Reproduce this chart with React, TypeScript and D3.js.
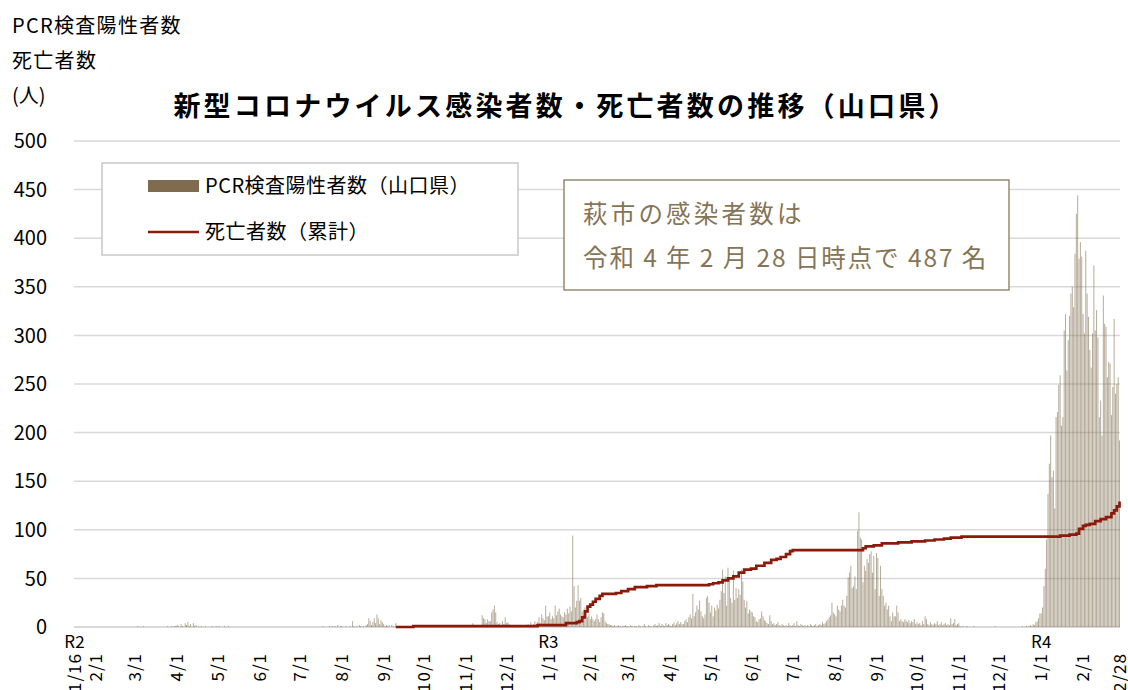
import React from 'react';
import * as d3 from 'd3';

// daily PCR positives (Yamaguchi), one array per month
const jan2020 = [0, 0, 0, 0, 0, 0, 0, 0, 0, 0, 0, 0, 0, 0, 0, 0]; // from 1/16
const feb2020 = [0, 0, 0, 0, 0, 0, 0, 0, 0, 0, 0, 0, 0, 0, 0, 0, 0, 0, 0, 0, 0, 0, 0, 0, 0, 0, 0, 0, 0];
const mar2020 = [0, 0, 1, 0, 0, 0, 1, 0, 0, 0, 0, 0, 0, 0, 0, 0, 0, 0, 0, 0, 0, 0, 0, 0, 1, 0, 0, 1, 0, 1, 1];
const apr2020 = [2, 1, 0, 3, 1, 0, 4, 2, 5, 1, 3, 0, 4, 1, 2, 0, 1, 0, 1, 0, 0, 1, 0, 0, 0, 0, 1, 0, 0, 1];
const may2020 = [0, 1, 0, 0, 0, 1, 0, 0, 1, 0, 0, 0, 0, 0, 0, 0, 0, 0, 0, 0, 0, 0, 0, 0, 0, 0, 0, 0, 0, 0, 0];
const jun2020 = [0, 0, 0, 0, 0, 0, 0, 0, 0, 0, 0, 0, 0, 0, 0, 0, 0, 0, 0, 0, 0, 0, 0, 0, 0, 0, 0, 0, 0, 0];
const jul2020 = [0, 0, 0, 0, 0, 0, 0, 0, 0, 0, 0, 0, 0, 0, 0, 0, 0, 1, 0, 0, 0, 0, 1, 0, 1, 0, 1, 0, 2, 0, 1];
const aug2020 = [1, 0, 0, 1, 0, 0, 1, 0, 6, 1, 0, 1, 0, 2, 1, 0, 1, 0, 2, 3, 9, 6, 2, 5, 9, 4, 13, 9, 3, 7, 5];
const sep2020 = [3, 1, 2, 1, 2, 0, 2, 1, 0, 4, 1, 0, 0, 0, 0, 0, 0, 0, 0, 0, 0, 0, 0, 0, 0, 0, 0, 0, 0, 0];
const oct2020 = [0, 0, 0, 0, 0, 0, 0, 0, 0, 0, 0, 0, 0, 0, 0, 0, 0, 0, 0, 0, 0, 0, 0, 0, 0, 0, 0, 0, 0, 0, 0];
const nov2020 = [0, 0, 1, 0, 0, 4, 0, 1, 0, 0, 1, 0, 12, 9, 8, 4, 8, 6, 6, 15, 18, 22, 15, 5, 3, 4, 2, 6, 3, 10];
const dec2020 = [4, 5, 3, 2, 2, 1, 2, 1, 2, 1, 2, 1, 2, 1, 2, 1, 3, 2, 5, 2, 3, 6, 3, 5, 10, 4, 13, 9, 7, 22, 11];
const jan2021 = [11, 15, 8, 11, 9, 22, 12, 16, 19, 13, 11, 10, 15, 13, 19, 14, 21, 16, 94, 42, 20, 27, 43, 27, 30, 16, 12, 20, 16, 10, 13];
const feb2021 = [8, 11, 8, 6, 8, 13, 8, 5, 10, 15, 14, 6, 4, 3, 3, 2, 2, 1, 2, 1, 1, 2, 1, 0, 1, 1, 2, 1];
const mar2021 = [1, 0, 2, 1, 0, 1, 1, 0, 2, 1, 0, 1, 3, 1, 0, 2, 1, 1, 0, 2, 3, 1, 2, 4, 1, 3, 2, 1, 4, 2, 3];
const apr2021 = [2, 1, 3, 5, 2, 4, 6, 3, 5, 3, 3, 6, 8, 5, 10, 13, 9, 34, 11, 15, 22, 18, 27, 16, 11, 9, 13, 30, 32, 25];
const may2021 = [15, 22, 11, 20, 17, 23, 19, 28, 37, 59, 35, 52, 22, 61, 51, 30, 25, 58, 28, 40, 30, 39, 33, 59, 47, 28, 20, 27, 14, 18, 16];
const jun2021 = [15, 11, 10, 6, 5, 8, 9, 16, 11, 7, 6, 4, 3, 12, 6, 3, 4, 2, 3, 5, 2, 1, 3, 2, 1, 2, 1, 4, 2, 1];
const jul2021 = [2, 4, 1, 6, 2, 1, 3, 2, 1, 2, 1, 2, 1, 3, 2, 1, 2, 3, 1, 2, 3, 2, 5, 3, 4, 6, 8, 10, 12, 25, 15];
const aug2021 = [13, 11, 22, 18, 16, 22, 28, 22, 20, 32, 51, 56, 63, 40, 42, 52, 39, 99, 118, 92, 90, 46, 63, 58, 70, 66, 75, 78, 56, 73, 39];
const sep2021 = [76, 71, 32, 63, 39, 32, 22, 25, 18, 22, 11, 6, 15, 11, 11, 22, 15, 6, 8, 6, 5, 8, 6, 5, 7, 4, 6, 5, 8, 3];
const oct2021 = [5, 3, 4, 2, 6, 3, 11, 8, 3, 2, 5, 3, 2, 4, 3, 6, 2, 3, 5, 2, 3, 4, 2, 3, 2, 9, 3, 4, 8, 2, 3];
const nov2021 = [4, 1, 0, 1, 0, 0, 1, 0, 0, 0, 0, 1, 0, 0, 0, 0, 0, 0, 0, 0, 0, 0, 0, 0, 0, 0, 0, 1, 0, 0];
const dec2021 = [0, 0, 0, 0, 0, 0, 0, 0, 0, 0, 0, 0, 0, 0, 0, 0, 0, 1, 0, 0, 1, 0, 1, 2, 1, 3, 2, 5, 6, 9, 14];
const jan2022 = [14, 20, 42, 60, 90, 137, 168, 197, 154, 161, 122, 216, 221, 249, 259, 207, 216, 305, 322, 264, 295, 320, 343, 350, 329, 384, 425, 444, 379, 396, 381];
const feb2022 = [322, 302, 387, 343, 319, 285, 267, 302, 372, 305, 326, 298, 216, 233, 197, 341, 312, 309, 257, 273, 271, 218, 247, 317, 240, 250, 257, 192];

const monthStarts: [string, number[]][] = [
  ['2020-01-16', jan2020], ['2020-02-01', feb2020], ['2020-03-01', mar2020], ['2020-04-01', apr2020],
  ['2020-05-01', may2020], ['2020-06-01', jun2020], ['2020-07-01', jul2020], ['2020-08-01', aug2020],
  ['2020-09-01', sep2020], ['2020-10-01', oct2020], ['2020-11-01', nov2020], ['2020-12-01', dec2020],
  ['2021-01-01', jan2021], ['2021-02-01', feb2021], ['2021-03-01', mar2021], ['2021-04-01', apr2021],
  ['2021-05-01', may2021], ['2021-06-01', jun2021], ['2021-07-01', jul2021], ['2021-08-01', aug2021],
  ['2021-09-01', sep2021], ['2021-10-01', oct2021], ['2021-11-01', nov2021], ['2021-12-01', dec2021],
  ['2022-01-01', jan2022], ['2022-02-01', feb2022],
];

// cumulative deaths: dates where the total changes, and the new total
const deathDates = [
  '2020-09-10', '2020-09-23', '2020-12-24', '2021-01-14', '2021-01-22', '2021-01-24', '2021-01-26', '2021-01-28',
  '2021-01-30', '2021-02-01', '2021-02-03', '2021-02-05', '2021-02-08', '2021-02-10', '2021-02-20', '2021-02-24',
  '2021-03-01', '2021-03-06', '2021-03-15', '2021-03-22', '2021-04-30', '2021-05-03', '2021-05-07', '2021-05-10',
  '2021-05-14', '2021-05-18', '2021-05-22', '2021-05-26', '2021-05-31', '2021-06-04', '2021-06-10', '2021-06-15',
  '2021-06-19', '2021-06-22', '2021-06-26', '2021-06-29', '2021-07-01', '2021-08-22', '2021-08-24', '2021-08-30',
  '2021-09-05', '2021-09-17', '2021-09-27', '2021-10-07', '2021-10-14', '2021-10-21', '2021-10-26', '2021-11-03',
  '2022-01-15', '2022-01-22', '2022-01-27', '2022-01-29', '2022-02-01', '2022-02-03', '2022-02-06', '2022-02-10',
  '2022-02-14', '2022-02-18', '2022-02-22', '2022-02-24', '2022-02-26', '2022-02-28',
];
const deathTotals = [
  0, 1, 2, 4, 5, 6, 10, 16,
  21, 23, 26, 29, 32, 34, 35, 37,
  39, 41, 42, 43, 44, 45, 46, 48,
  50, 52, 56, 59, 60, 63, 66, 69,
  70, 72, 75, 78, 79, 81, 83, 84,
  86, 87, 88, 89, 90, 91, 92, 93,
  94, 95, 96, 101, 104, 105, 106, 109,
  111, 113, 117, 120, 124, 129,
];

const yTicks = [0, 50, 100, 150, 200, 250, 300, 350, 400, 450, 500];
const xTickDates = [
  '2020-01-16', '2020-02-01', '2020-03-01', '2020-04-01', '2020-05-01', '2020-06-01', '2020-07-01', '2020-08-01',
  '2020-09-01', '2020-10-01', '2020-11-01', '2020-12-01', '2021-01-01', '2021-02-01', '2021-03-01', '2021-04-01',
  '2021-05-01', '2021-06-01', '2021-07-01', '2021-08-01', '2021-09-01', '2021-10-01', '2021-11-01', '2021-12-01',
  '2022-01-01', '2022-02-01', '2022-02-28',
];
const eraLabels: [string, string][] = [['2020-01-16', 'R2'], ['2021-01-01', 'R3'], ['2022-01-01', 'R4']];

const FONT = "'Noto Sans CJK JP', 'Noto Sans', sans-serif";
const BAR = '#7f6c4e';
const LINE = '#8b1a0a';

const parse = d3.timeParse('%Y-%m-%d');
const fmt = d3.timeFormat('%Y-%m-%d');

const App = () => {
  const width = 1128;
  const height = 690;
  const left = 74;
  const right = 1120;

  // all days of the chart
  const first = parse('2020-01-16') as Date;
  const last = parse('2022-02-28') as Date;
  const days = d3.timeDay.range(first, d3.timeDay.offset(last, 1)).map(fmt);

  const cases = new Map<string, number>();
  monthStarts.forEach(([start, vals]) => {
    const s = parse(start) as Date;
    vals.forEach((v, i) => cases.set(fmt(d3.timeDay.offset(s, i)), v));
  });

  const x = d3.scaleBand<string>().domain(days).range([left, right]).paddingInner(0.3);
  const cx = (d: string) => (x(d) ?? 0) + x.bandwidth() / 2;
  const y = d3.scaleLinear().domain([0, 500]).range([627, 141]);

  const deathLine = d3.line<number>()
    .x((_, i) => cx(deathDates[i]))
    .y(d => y(d))
    .curve(d3.curveStepAfter);

  return (
    <svg width={width} height={height} style={{ position: 'absolute', left: 0, top: 0, background: '#fff' }} fontFamily={FONT}>
      {/* axis caption */}
      <text x={12} y={33} fontSize={20} letterSpacing={1.3} fill="#000">PCR検査陽性者数</text>
      <text x={12} y={68} fontSize={20} letterSpacing={1.3} fill="#000">死亡者数</text>
      <text x={12} y={103} fontSize={20} fill="#000">(人)</text>

      <text x={566} y={116} textAnchor="middle" fontSize={27} fontWeight="bold" letterSpacing={3.2} fill="#000">
        新型コロナウイルス感染者数・死亡者数の推移（山口県）
      </text>

      {/* grid */}
      {yTicks.map(t => (
        <g key={t}>
          <line x1={left} x2={right} y1={y(t)} y2={y(t)} stroke="#d9d9d9" strokeWidth={t === 0 ? 2 : 1.5} />
          <text x={47} y={y(t)} dy="0.36em" textAnchor="end" fontSize={20} fill="#000">{t}</text>
        </g>
      ))}

      {/* bars */}
      {days.map(d => {
        const v = cases.get(d) ?? 0;
        if (!v) return null;
        return <rect key={d} x={x(d)} y={y(v)} width={x.bandwidth()} height={y(0) - y(v)} fill={BAR} fillOpacity={0.6} />;
      })}

      <path d={deathLine(deathTotals) ?? ''} fill="none" stroke={LINE} strokeWidth={2.7} />

      {/* x labels */}
      {eraLabels.map(([d, label]) => (
        <text key={label} x={cx(d)} y={648} textAnchor="middle" fontSize={17} fill="#000">{label}</text>
      ))}
      {xTickDates.map(d => {
        const dt = parse(d) as Date;
        const label = `${dt.getMonth() + 1}/${dt.getDate()}`;
        return (
          <text key={d} transform={`translate(${cx(d)},653) rotate(-90)`} dy="0.36em" textAnchor="end"
            fontSize={17} letterSpacing={1} fill="#000">{label}</text>
        );
      })}

      {/* legend */}
      <rect x={102} y={163} width={416} height={92} fill="#fff" stroke="#c8c8c8" strokeWidth={1.5} />
      <rect x={148} y={180} width={51} height={12} fill={BAR} />
      <text x={205} y={193} fontSize={20} letterSpacing={0.5} fill="#000">PCR検査陽性者数（山口県）</text>
      <line x1={148} x2={199} y1={232} y2={232} stroke={LINE} strokeWidth={2.5} />
      <text x={205} y={239} fontSize={20} letterSpacing={0.5} fill="#000">死亡者数（累計）</text>

      {/* note */}
      <rect x={564} y={180} width={445} height={110} fill="#fff" stroke={BAR} strokeWidth={1.2} />
      <text x={583} y={223} fontSize={24.5} letterSpacing={3.2} fill="#857556">萩市の感染者数は</text>
      <text x={583} y={267} fontSize={24.5} letterSpacing={1.9} fill="#857556">令和 4 年 2 月 28 日時点で 487 名</text>
    </svg>
  );
};

export default App;
